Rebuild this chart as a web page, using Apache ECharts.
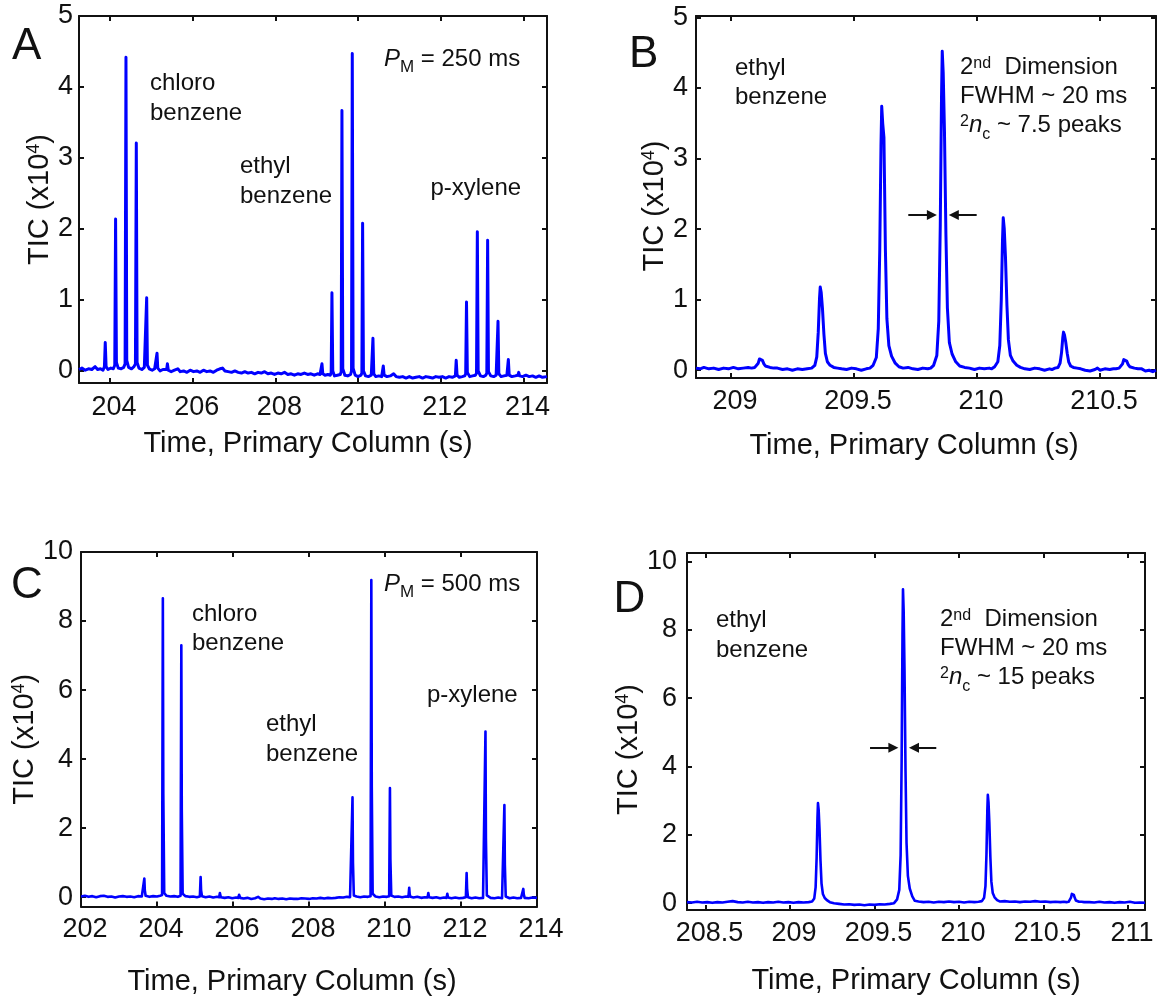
<!DOCTYPE html>
<html>
<head>
<meta charset="utf-8">
<script src="https://cdn.jsdelivr.net/npm/echarts@6/dist/echarts.min.js"></script>
<style>
  html, body { margin: 0; padding: 0; background: #fff; }
  #chart { width: 1158px; height: 997px; }
</style>
</head>
<body>
<div id="chart"></div>
<script>
// GCxGC-TOFMS total ion chromatograms, [time (s), TIC (x10^4)]
// A: PM = 250 ms, full window
const traceA = [
  [203.25, 0.02], [203.32, 0.04], [203.40, 0.01], [203.48, 0.03], [203.56, 0.02], [203.64, 0.06], [203.70, 0.02],
  [203.77, 0.03], [203.83, 0.01], [203.865, 0.06], [203.885, 0.40], [203.905, 0.06], [203.95, 0.02], [204.02, 0.04],
  [204.08, 0.03], [204.115, 0.08], [204.135, 2.14], [204.155, 0.12], [204.20, 0.04], [204.27, 0.03], [204.33, 0.05],
  [204.365, 0.10], [204.386, 4.42], [204.405, 0.15], [204.45, 0.05], [204.52, 0.03], [204.58, 0.06], [204.615, 0.10],
  [204.636, 3.21], [204.655, 0.12], [204.70, 0.04], [204.77, 0.02], [204.83, 0.05], [204.867, 0.07], [204.887, 1.03],
  [204.905, 0.08], [204.95, 0.03], [205.02, 0.01], [205.08, 0.03], [205.117, 0.04], [205.137, 0.25], [205.155, 0.04],
  [205.21, 0.00], [205.28, 0.02], [205.37, 0.02], [205.388, 0.10], [205.41, 0.01], [205.48, -0.01], [205.56, 0.01],
  [205.64, 0.03], [205.70, -0.01], [205.78, 0.00], [205.86, -0.02], [205.94, 0.01], [206.02, -0.01], [206.10, 0.00],
  [206.18, -0.02], [206.26, 0.01], [206.34, -0.01], [206.42, 0.00], [206.50, -0.02], [206.58, 0.01], [206.66, 0.03],
  [206.72, 0.04], [206.78, 0.00], [206.86, -0.01], [206.94, -0.02], [207.02, 0.00], [207.10, -0.02], [207.18, -0.03],
  [207.26, -0.01], [207.34, -0.03], [207.42, -0.02], [207.50, -0.04], [207.58, -0.02], [207.66, -0.03], [207.74, -0.01],
  [207.82, -0.04], [207.90, -0.03], [207.98, -0.05], [208.06, -0.03], [208.14, -0.04], [208.22, -0.02], [208.30, -0.05],
  [208.38, -0.04], [208.46, -0.06], [208.54, -0.04], [208.62, -0.05], [208.70, -0.03], [208.78, -0.05], [208.86, -0.04],
  [208.94, -0.06], [209.02, -0.04], [209.08, -0.05], [209.107, -0.03], [209.127, 0.10], [209.147, -0.04], [209.20, -0.06],
  [209.27, -0.05], [209.33, -0.06], [209.35, -0.02], [209.368, 1.10], [209.388, 0.00], [209.43, -0.07], [209.50, -0.06],
  [209.57, -0.05], [209.592, -0.01], [209.61, 3.67], [209.63, 0.03], [209.68, -0.06], [209.75, -0.07], [209.82, -0.05],
  [209.842, 0.00], [209.86, 4.47], [209.88, 0.04], [209.93, -0.06], [210.00, -0.08], [210.07, -0.06], [210.092, -0.03],
  [210.11, 2.08], [210.13, 0.00], [210.18, -0.07], [210.25, -0.08], [210.32, -0.06], [210.342, -0.05], [210.36, 0.46],
  [210.38, -0.04], [210.43, -0.08], [210.50, -0.07], [210.57, -0.08], [210.592, -0.06], [210.61, 0.07], [210.63, -0.06],
  [210.70, -0.08], [210.78, -0.07], [210.86, -0.04], [210.92, -0.08], [211.00, -0.09], [211.08, -0.08], [211.16, -0.10],
  [211.24, -0.08], [211.32, -0.10], [211.40, -0.09], [211.48, -0.08], [211.56, -0.10], [211.64, -0.08], [211.72, -0.09],
  [211.80, -0.10], [211.88, -0.08], [211.96, -0.09], [212.04, -0.08], [212.12, -0.10], [212.20, -0.08], [212.28, -0.09],
  [212.354, -0.07], [212.374, 0.15], [212.394, -0.06], [212.45, -0.09], [212.52, -0.08], [212.58, -0.07], [212.603, -0.04],
  [212.623, 0.97], [212.643, -0.02], [212.70, -0.08], [212.77, -0.07], [212.84, -0.06], [212.865, -0.03], [212.885, 1.96],
  [212.905, 0.00], [212.96, -0.07], [213.03, -0.08], [213.09, -0.06], [213.114, -0.03], [213.134, 1.84], [213.154, -0.01],
  [213.21, -0.07], [213.28, -0.08], [213.34, -0.06], [213.365, -0.05], [213.385, 0.70], [213.405, -0.04], [213.46, -0.08],
  [213.53, -0.07], [213.60, -0.06], [213.615, -0.06], [213.635, 0.16], [213.655, -0.06], [213.72, -0.08], [213.80, -0.07],
  [213.866, -0.06], [213.886, -0.02], [213.906, -0.07], [213.98, -0.08], [214.06, -0.06], [214.14, -0.08], [214.22, -0.07],
  [214.30, -0.09], [214.38, -0.07], [214.46, -0.09], [214.57, -0.08]
];

// B: PM = 250 ms, ethyl benzene modulated peaks
const traceB = [
  [208.858, 0.03], [208.875, 0.02], [208.89, 0.04], [208.91, 0.02], [208.93, 0.03], [208.95, 0.01], [208.97, 0.03],
  [208.99, 0.02], [209.01, 0.04], [209.03, 0.02], [209.05, 0.03], [209.07, 0.04],
  [209.084, 0.03], [209.097, 0.04], [209.105, 0.05], [209.111, 0.10], [209.116, 0.16], [209.119, 0.18], [209.123, 0.17],
  [209.128, 0.14], [209.134, 0.09], [209.140, 0.06], [209.148, 0.04], [209.159, 0.04], [209.174, 0.03], [209.189, 0.03],
  [209.21, 0.01], [209.23, 0.02], [209.25, 0.00], [209.27, 0.02], [209.29, 0.01], [209.31, 0.02],
  [209.328, 0.03], [209.341, 0.07], [209.349, 0.19], [209.355, 0.54], [209.360, 1.01], [209.363, 1.18], [209.367, 1.10],
  [209.372, 0.88], [209.378, 0.51], [209.384, 0.24], [209.392, 0.12], [209.403, 0.07], [209.418, 0.04], [209.433, 0.03],
  [209.45, 0.02], [209.47, 0.01], [209.49, 0.03], [209.51, 0.02], [209.53, 0.00], [209.55, 0.02], [209.565, 0.03],
  [209.578, 0.07], [209.591, 0.18], [209.599, 0.59], [209.605, 1.70], [209.610, 3.18], [209.613, 3.74], [209.617, 3.50],
  [209.622, 3.30], [209.628, 1.70], [209.634, 0.73], [209.642, 0.35], [209.653, 0.20], [209.668, 0.10], [209.683, 0.05],
  [209.70, 0.03], [209.72, 0.04], [209.74, 0.02], [209.76, 0.01], [209.78, 0.03], [209.80, 0.02], [209.812, 0.03],
  [209.824, 0.07], [209.837, 0.21], [209.845, 0.70], [209.851, 2.05], [209.856, 3.85], [209.859, 4.52], [209.863, 4.21],
  [209.868, 3.40], [209.874, 1.92], [209.880, 0.88], [209.888, 0.39], [209.899, 0.23], [209.914, 0.12], [209.93, 0.06],
  [209.95, 0.04], [209.97, 0.03], [209.99, 0.01], [210.01, 0.03], [210.03, 0.02], [210.05, 0.03], [210.06, 0.02],
  [210.072, 0.05], [210.085, 0.12], [210.093, 0.35], [210.099, 0.99], [210.104, 1.84], [210.107, 2.16], [210.111, 2.01],
  [210.116, 1.61], [210.122, 0.92], [210.128, 0.43], [210.136, 0.21], [210.147, 0.13], [210.162, 0.07], [210.177, 0.04],
  [210.195, 0.02], [210.215, 0.01], [210.235, 0.03], [210.255, 0.02], [210.275, 0.00], [210.295, 0.02], [210.305, 0.01],
  [210.317, 0.03], [210.330, 0.04], [210.338, 0.10], [210.344, 0.25], [210.349, 0.46], [210.352, 0.54], [210.356, 0.50],
  [210.361, 0.40], [210.367, 0.24], [210.373, 0.12], [210.381, 0.06], [210.392, 0.04], [210.407, 0.03], [210.422, 0.02],
  [210.44, 0.00], [210.46, -0.01], [210.48, 0.01], [210.49, 0.03], [210.50, 0.00], [210.52, 0.02], [210.54, 0.01], [210.555, 0.02],
  [210.565, 0.02], [210.578, 0.03], [210.586, 0.04], [210.592, 0.09], [210.597, 0.15], [210.600, 0.17], [210.604, 0.16],
  [210.609, 0.13], [210.615, 0.08], [210.621, 0.05], [210.629, 0.03], [210.640, 0.03], [210.655, 0.02], [210.670, 0.02],
  [210.685, -0.01], [210.70, 0.00], [210.715, -0.02], [210.728, 0.00]
];

// C: PM = 500 ms, full window
const traceC = [
  [202.00, 0.02], [202.10, 0.04], [202.20, 0.01], [202.30, 0.03], [202.40, 0.00], [202.50, 0.03], [202.60, 0.04],
  [202.70, 0.01], [202.80, 0.02], [202.90, -0.01], [203.00, 0.02], [203.10, 0.03], [203.20, 0.01], [203.30, 0.02],
  [203.40, 0.00], [203.50, 0.03], [203.60, 0.02], [203.647, 0.03], [203.667, 0.54], [203.679, 0.20], [203.70, 0.04],
  [203.80, 0.01], [203.90, 0.03], [204.00, 0.02], [204.08, 0.04], [204.134, 0.06], [204.154, 8.66], [204.166, 3.00],
  [204.19, 0.12], [204.25, 0.04], [204.35, 0.02], [204.45, 0.03], [204.55, 0.01], [204.62, 0.04], [204.64, 7.30],
  [204.652, 2.55], [204.675, 0.10], [204.75, 0.03], [204.85, 0.01], [204.95, 0.02], [205.05, 0.00], [205.128, 0.02],
  [205.148, 0.58], [205.16, 0.20], [205.183, 0.03], [205.28, 0.00], [205.38, 0.02], [205.48, -0.01], [205.58, 0.01],
  [205.635, 0.00], [205.655, 0.12], [205.68, 0.00], [205.78, -0.02], [205.88, 0.00], [205.98, -0.03], [206.08, -0.01],
  [206.14, -0.02], [206.16, 0.07], [206.19, -0.02], [206.28, -0.04], [206.38, -0.02], [206.48, -0.05], [206.58, -0.03],
  [206.66, 0.01], [206.72, -0.04], [206.82, -0.06], [206.92, -0.04], [207.02, -0.05], [207.10, -0.03], [207.15, 0.01],
  [207.20, -0.05], [207.30, -0.04], [207.40, -0.06], [207.50, -0.04], [207.60, -0.05], [207.65, 0.00], [207.70, -0.05],
  [207.80, -0.03], [207.85, 0.00], [207.90, -0.04], [208.00, -0.05], [208.10, -0.03], [208.15, 0.01], [208.20, -0.04],
  [208.30, -0.02], [208.40, -0.04], [208.50, -0.02], [208.60, -0.03], [208.65, 0.00], [208.70, -0.02], [208.80, 0.00],
  [208.90, -0.01], [209.00, 0.01], [209.08, 0.00], [209.125, 0.02], [209.145, 2.89], [209.157, 1.00], [209.18, 0.05],
  [209.25, 0.02], [209.35, 0.00], [209.45, 0.02], [209.55, 0.01], [209.62, 0.03], [209.64, 9.19], [209.652, 3.20],
  [209.675, 0.10], [209.75, 0.02], [209.85, 0.00], [209.95, 0.02], [210.05, 0.01], [210.11, 0.03], [210.13, 3.16],
  [210.142, 1.10], [210.165, 0.05], [210.25, 0.01], [210.35, 0.02], [210.45, 0.00], [210.55, 0.02], [210.617, 0.01],
  [210.637, 0.27], [210.65, 0.08], [210.672, 0.01], [210.75, -0.01], [210.85, 0.01], [210.95, -0.02], [211.05, 0.00],
  [211.12, -0.01], [211.14, 0.12], [211.16, 0.00], [211.25, -0.02], [211.35, 0.00], [211.45, -0.03], [211.55, -0.01],
  [211.62, -0.02], [211.64, 0.10], [211.66, -0.01], [211.75, -0.03], [211.85, -0.01], [211.95, -0.03], [212.05, -0.02],
  [212.128, 0.00], [212.148, 0.70], [212.16, 0.25], [212.183, 0.00], [212.28, -0.03], [212.38, -0.01], [212.48, -0.03],
  [212.58, -0.02], [212.624, 0.00], [212.644, 4.80], [212.656, 1.70], [212.68, 0.05], [212.78, -0.02], [212.88, -0.03],
  [212.98, -0.01], [213.08, -0.03], [213.122, 0.00], [213.142, 2.67], [213.154, 0.95], [213.177, 0.02], [213.28, -0.03],
  [213.38, -0.01], [213.48, -0.03], [213.58, -0.02], [213.62, -0.01], [213.64, 0.24], [213.652, 0.08], [213.675, -0.02],
  [213.78, -0.03], [213.88, -0.01], [214.00, -0.02]
];

// D: PM = 500 ms, ethyl benzene modulated peaks
const traceD = [
  [208.39, 0.03], [208.42, 0.02], [208.45, 0.04], [208.48, 0.02], [208.51, 0.03], [208.54, 0.01], [208.57, 0.03],
  [208.60, 0.02], [208.63, 0.04], [208.66, 0.06], [208.69, 0.03], [208.72, 0.02], [208.75, 0.04], [208.78, 0.02],
  [208.81, 0.03], [208.84, 0.01], [208.87, 0.03], [208.90, 0.02], [208.93, 0.04], [208.96, 0.02], [208.99, 0.03],
  [209.02, 0.01], [209.05, 0.03], [209.08, 0.02], [209.11, 0.03],
  [209.130, 0.05], [209.143, 0.14], [209.151, 0.46], [209.157, 1.33], [209.162, 2.49], [209.165, 2.93], [209.169, 2.73],
  [209.174, 2.17], [209.180, 1.24], [209.186, 0.57], [209.194, 0.27], [209.205, 0.15], [209.220, 0.08], [209.235, 0.03],
  [209.26, 0.00], [209.29, -0.02], [209.32, -0.04], [209.35, -0.03], [209.38, -0.05], [209.41, -0.04], [209.44, -0.06],
  [209.47, -0.04], [209.50, -0.05], [209.53, -0.03], [209.56, -0.04], [209.59, -0.02], [209.615, 0.00],
  [209.633, 0.11], [209.646, 0.39], [209.654, 1.40], [209.660, 4.15], [209.665, 7.81], [209.668, 9.19], [209.672, 8.55],
  [209.677, 6.81], [209.683, 3.87], [209.689, 1.76], [209.697, 0.80], [209.708, 0.43], [209.723, 0.20], [209.738, 0.07],
  [209.76, 0.05], [209.79, 0.03], [209.82, 0.04], [209.85, 0.02], [209.88, 0.04], [209.91, 0.03], [209.94, 0.05],
  [209.97, 0.03], [210.00, 0.04], [210.03, 0.02], [210.06, 0.04], [210.09, 0.03], [210.115, 0.04],
  [210.135, 0.06], [210.148, 0.16], [210.156, 0.50], [210.162, 1.44], [210.167, 2.70], [210.170, 3.17], [210.174, 2.95],
  [210.179, 2.35], [210.185, 1.35], [210.191, 0.63], [210.199, 0.30], [210.210, 0.17], [210.225, 0.09], [210.240, 0.05],
  [210.27, 0.06], [210.30, 0.04], [210.33, 0.05], [210.36, 0.03], [210.39, 0.05], [210.42, 0.04], [210.45, 0.06],
  [210.48, 0.04], [210.51, 0.05], [210.54, 0.03], [210.57, 0.04], [210.60, 0.03], [210.62, 0.04],
  [210.635, 0.03], [210.648, 0.04], [210.656, 0.07], [210.662, 0.16], [210.667, 0.27], [210.670, 0.31], [210.674, 0.29],
  [210.679, 0.24], [210.685, 0.15], [210.691, 0.08], [210.699, 0.05], [210.710, 0.04], [210.725, 0.04], [210.740, 0.03],
  [210.77, 0.03], [210.80, 0.02], [210.83, 0.04], [210.86, 0.02], [210.89, 0.03], [210.92, 0.01], [210.95, 0.03],
  [210.98, 0.02], [211.01, 0.04], [211.04, 0.01], [211.07, 0.02], [211.10, 0.01]
];

// Tick values
const ticksAx = [204, 206, 208, 210, 212, 214];
const ticksAy = [0, 1, 2, 3, 4, 5];
const ticksBx = [209, 209.5, 210, 210.5];
const ticksBy = [0, 1, 2, 3, 4, 5];
const ticksCx = [202, 204, 206, 208, 210, 212, 214];
const ticksCy = [0, 2, 4, 6, 8, 10];
const ticksDx = [208.5, 209, 209.5, 210, 210.5, 211];
const ticksDy = [0, 2, 4, 6, 8, 10];

// FWHM arrows: [tail time, head time, TIC level]
const fwhmB = [[209.721, 209.817, 2.2], [209.999, 209.906, 2.2]];
const fwhmD = [[209.473, 209.611, 4.55], [209.865, 209.733, 4.55]];

const FONT = '"Liberation Sans", Arial, Helvetica, sans-serif';
const INK = '#111111';
const BLUE = '#0000ff';

const panels = [
  { trace: traceA, xTicks: ticksAx, yTicks: ticksAy, arrows: null, lineWidth: 3,
    grid: { left: 79, top: 16, width: 468, height: 367 },
    xRange: [203.25, 214.57], yRange: [-0.17, 5],
    xLabelMargin: 11, xNameGap: 46, xNameShift: 5, yLabelMargin: 6, yNameGap: 23.5, yNameShift: 0 },
  { trace: traceB, xTicks: ticksBx, yTicks: ticksBy, arrows: fwhmB, lineWidth: 3,
    grid: { left: 696, top: 16, width: 460, height: 362 },
    xRange: [208.858, 210.728], yRange: [-0.11, 5.02],
    xLabelMargin: 10, xNameGap: 53, xNameShift: 12, yLabelMargin: 8, yNameGap: 26.4, yNameShift: 9 },
  { trace: traceC, xTicks: ticksCx, yTicks: ticksCy, arrows: null, lineWidth: 2.6,
    grid: { left: 81, top: 552, width: 456, height: 357 },
    xRange: [202, 214], yRange: [-0.27, 10],
    xLabelMargin: 10, xNameGap: 60.5, xNameShift: 17, yLabelMargin: 8, yNameGap: 36.5, yNameShift: 10 },
  { trace: traceD, xTicks: ticksDx, yTicks: ticksDy, arrows: fwhmD, lineWidth: 2.6,
    grid: { left: 687, top: 553, width: 458, height: 357 },
    xRange: [208.39, 211.10], yRange: [-0.2, 10.25],
    xLabelMargin: 10, xNameGap: 56, xNameShift: 0, yLabelMargin: 10, yNameGap: 38.8, yNameShift: 18 }
];

const boxLine = { show: true, onZero: false, lineStyle: { color: INK, width: 2 } };
const inTicks = (vals) => ({ show: true, inside: true, length: 5, lineStyle: { color: INK, width: 2 }, customValues: vals });
const tickFont = { fontSize: 27, fontFamily: FONT, color: INK };

const grid = [], xAxis = [], yAxis = [], series = [];

panels.forEach((p, i) => {
  grid.push(Object.assign({ containLabel: false, show: false }, p.grid));

  // bottom axis with labels, top mirror axis with ticks only
  xAxis.push({
    type: 'value', gridIndex: i, position: 'bottom', min: p.xRange[0], max: p.xRange[1],
    axisLine: boxLine, axisTick: inTicks(p.xTicks), splitLine: { show: false },
    axisLabel: Object.assign({ show: true, customValues: p.xTicks, margin: p.xLabelMargin,
      padding: [0, 0, 0, 8], formatter: (v) => String(v) }, tickFont),
    name: 'Time, Primary Column (s)', nameLocation: 'middle', nameGap: p.xNameGap,
    nameTextStyle: { fontSize: 29, fontFamily: FONT, color: INK, padding: [0, 2 * p.xNameShift, 0, 0] }
  });
  xAxis.push({
    type: 'value', gridIndex: i, position: 'top', min: p.xRange[0], max: p.xRange[1],
    axisLine: boxLine, axisTick: inTicks(p.xTicks), axisLabel: { show: false }, splitLine: { show: false }
  });

  // left axis with labels, right mirror axis with ticks only
  yAxis.push({
    type: 'value', gridIndex: i, position: 'left', min: p.yRange[0], max: p.yRange[1],
    axisLine: boxLine, axisTick: inTicks(p.yTicks), splitLine: { show: false },
    axisLabel: Object.assign({ show: true, customValues: p.yTicks, margin: p.yLabelMargin,
      padding: [8, 0, 0, 0], formatter: (v) => String(v) }, tickFont),
    name: '{t|TIC (x10}{s|4}{t|)}', nameLocation: 'middle', nameGap: p.yNameGap,
    nameTextStyle: {
      fontSize: 29, fontFamily: FONT, color: INK, padding: [0, 2 * p.yNameShift, 0, 0],
      rich: {
        t: { fontSize: 29, fontFamily: FONT, color: INK },
        s: { fontSize: 18, fontFamily: FONT, color: INK, verticalAlign: 'top' }
      }
    }
  });
  yAxis.push({
    type: 'value', gridIndex: i, position: 'right', min: p.yRange[0], max: p.yRange[1],
    axisLine: boxLine, axisTick: inTicks(p.yTicks), axisLabel: { show: false }, splitLine: { show: false }
  });

  const s = {
    type: 'line', xAxisIndex: 2 * i, yAxisIndex: 2 * i, data: p.trace,
    showSymbol: false, symbol: 'none', clip: true, silent: true,
    lineStyle: { color: BLUE, width: p.lineWidth, join: 'round' }, itemStyle: { color: BLUE }
  };
  if (p.arrows) {
    s.markLine = {
      silent: true, animation: false, symbol: ['none', 'triangle'], symbolSize: 10,
      lineStyle: { color: INK, width: 2, type: 'solid' }, label: { show: false },
      data: p.arrows.map((a) => [{ coord: [a[0], a[2]] }, { coord: [a[1], a[2]] }])
    };
  }
  series.push(s);
});

// Annotation text
const tok = {
  n:    { fontSize: 24, fontFamily: FONT, fill: INK, verticalAlign: 'middle' },
  it:   { fontSize: 24, fontFamily: FONT, fill: INK, fontStyle: 'italic', verticalAlign: 'middle' },
  sup:  { fontSize: 16, fontFamily: FONT, fill: INK, verticalAlign: 'top', padding: [2.5, 0, 0, 0] },
  sub:  { fontSize: 16, fontFamily: FONT, fill: INK, verticalAlign: 'bottom', height: 10 },
  subM: { fontSize: 17, fontFamily: FONT, fill: INK, verticalAlign: 'bottom', height: 14 }
};
const note = (x, y, text, lineHeight, rich) => ({
  type: 'text', x: x, y: y, silent: true, z: 100,
  style: { text: text, fontSize: 24, fontFamily: FONT, fill: INK, lineHeight: lineHeight || 29.5,
           align: 'left', verticalAlign: 'top', rich: rich ? tok : undefined }
});
const letter = (x, y, t) => ({
  type: 'text', x: x, y: y, silent: true, z: 100,
  style: { text: t, fontSize: 44, lineHeight: 44, fontFamily: FONT, fill: INK, align: 'left', verticalAlign: 'top' }
});

const graphic = [
  letter(12, 24.5, 'A'), letter(629, 32.8, 'B'), letter(11, 564.3, 'C'), letter(613.5, 577.8, 'D'),
  note(384, 44.8, '{it|P}{subM|M}{n| = 250 ms}', 30, true),
  note(150, 68.8, 'chloro\nbenzene'),
  note(240, 151.8, 'ethyl\nbenzene'),
  note(430.4, 174.1, 'p-xylene'),
  note(735, 53.5, 'ethyl\nbenzene'),
  note(960, 53, '{n|2}{sup|nd}{n|  Dimension}\n{n|FWHM ~ 20 ms}\n{sup|2}{it|n}{sub|c}{n| ~ 7.5 peaks}', 29, true),
  note(384, 569.5, '{it|P}{subM|M}{n| = 500 ms}', 30, true),
  note(192, 599.5, 'chloro\nbenzene'),
  note(266, 709.8, 'ethyl\nbenzene'),
  note(427, 680.8, 'p-xylene'),
  note(716, 606.1, 'ethyl\nbenzene'),
  note(940, 605.5, '{n|2}{sup|nd}{n|  Dimension}\n{n|FWHM ~ 20 ms}\n{sup|2}{it|n}{sub|c}{n| ~ 15 peaks}', 28.7, true)
];

const chart = echarts.init(document.getElementById('chart'), null, { renderer: 'canvas' });
chart.setOption({
  animation: false,
  backgroundColor: '#ffffff',
  grid: grid, xAxis: xAxis, yAxis: yAxis, series: series, graphic: graphic
});
</script>
</body>
</html>
